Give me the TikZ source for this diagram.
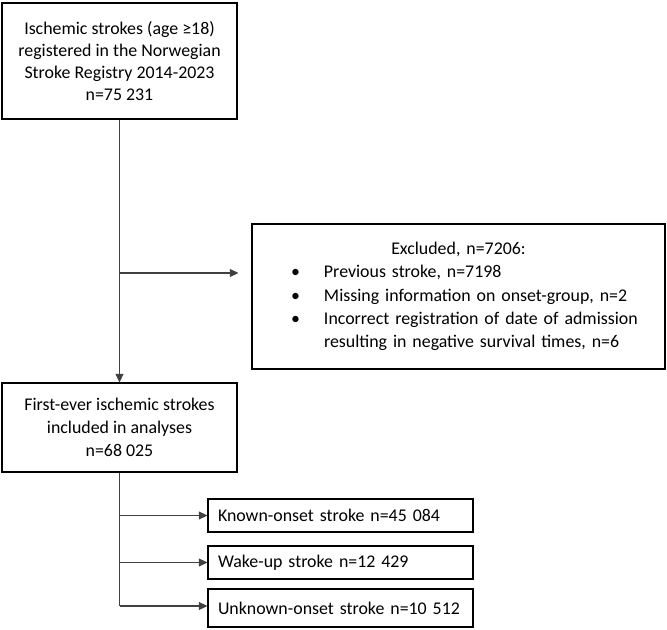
\documentclass[tikz,border=0pt]{standalone}
\usepackage{fontspec}
\setmainfont{Carlito}
\usetikzlibrary{arrows.meta}
\tikzset{
  box/.style={draw, line width=0.8pt, inner sep=3pt, font=\fontsize{13.4}{17.5}\selectfont},
  link/.style={draw=black!75, line width=0.8pt},
  arr/.style={link, -{Triangle[length=6.5pt,width=6pt]}}
}
\newcommand{\bulletitem}{\leavevmode\llap{\textbullet\hspace{18pt}}}
\begin{document}
\begin{tikzpicture}[x=0.75pt, y=-0.75pt]
  \useasboundingbox (0,0) rectangle (667,630);

  % main boxes
  \node[box, minimum width=235*0.75pt, minimum height=116*0.75pt, align=center,
        font=\fontsize{13.4}{16.5}\selectfont] (reg) at (119.5,61)
    {Ischemic strokes (age ≥18)\\registered in the Norwegian\\Stroke Registry 2014-2023\\n=75 231};
  \node[box, minimum width=235*0.75pt, minimum height=89*0.75pt, align=center] (incl) at (119.5,427.5)
    {First-ever ischemic strokes\\included in analyses\\n=68 025};

  % excluded box
  \node[box, minimum width=411*0.75pt, minimum height=145*0.75pt, text width=405*0.75pt] (excl) at (458.5,296.5)
    {{\centering Excluded, n=7206:\par}
     \raggedright\leftskip=51pt
     \bulletitem Previous stroke, n=7198\par
     \bulletitem Missing information on onset-group, n=2\par
     \bulletitem Incorrect registration of date of admission\newline
     resulting in negative survival times, n=6\par};

  % onset groups
  \node[box, minimum width=265*0.75pt, minimum height=33*0.75pt, text width=245*0.75pt] (known) at (340.5,515.5)
    {Known-onset stroke n=45 084};
  \node[box, minimum width=265*0.75pt, minimum height=33*0.75pt, text width=245*0.75pt] (wake) at (340.5,562.5)
    {Wake-up stroke n=12 429};
  \node[box, minimum width=265*0.75pt, minimum height=38*0.75pt, text width=245*0.75pt] (unknown) at (340.5,608)
    {Unknown-onset stroke n=10 512};

  % connectors
  \coordinate (split) at (119.5,273);
  \coordinate (foot) at (119.5,606);
  \draw[arr] (reg.south) -- (incl.north);
  \draw[arr, shorten >=9.75pt] (split) -- (split -| excl.west);
  \draw[link] (incl.south) -- (foot);
  \draw[arr] (foot |- known.west) -- (known.west);
  \draw[arr] (foot |- wake.west) -- (wake.west);
  \draw[arr] (foot) -- (foot -| unknown.west);
\end{tikzpicture}
\end{document}
